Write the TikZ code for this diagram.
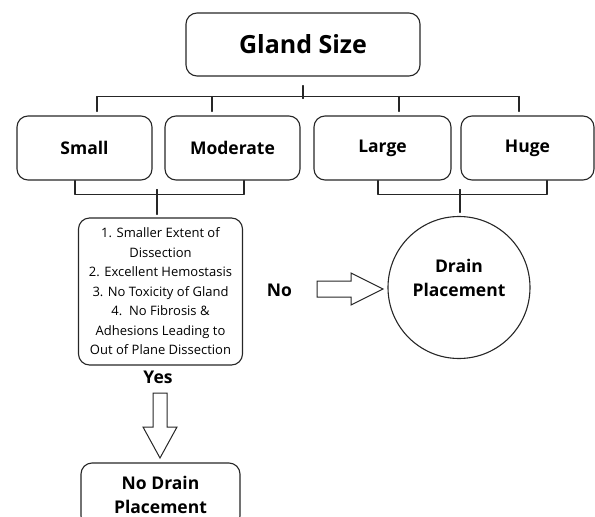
\documentclass[tikz,border=0pt]{standalone}
\usepackage{fontspec}
\setmainfont{Open Sans}
\tikzset{
  box/.style={draw=black!85, line width=1.1pt, rounded corners=11pt, inner sep=0pt, align=center},
  headtext/.style={font=\bfseries\fontsize{17.5}{24}\selectfont, align=center},
  blockarrow/.style={draw=black!85, line width=1pt, line join=miter}
}
\begin{document}
\begin{tikzpicture}[x=1pt, y=-1pt, line join=round, line cap=round]%Gland size
	\useasboundingbox (0,0) rectangle (595,517);
	\clip (0,0) rectangle (595,517);
	\node[box, minimum width=234pt, minimum height=63pt, font=\bfseries\fontsize{25}{30}\selectfont](gland) at (303,44.5) {Gland Size};
	\foreach \n/\t/\x/\w in {small/Small/84.5/135, moderate/Moderate/232.5/135, large/Large/382.5/137, huge/Huge/527.5/133}
	\node[box, headtext, minimum width=\w pt, minimum height=64pt](\n) at (\x,148) {\t};
	\node[box, minimum width=164pt, minimum height=147pt, font=\fontsize{13}{19.5}\selectfont](reasons) at (160.5,291.5) {1. Smaller Extent of\\Dissection\\2. Excellent Hemostasis\\3. No Toxicity of Gland\\4.\ \ No Fibrosis \&\\Adhesions Leading to\\Out of Plane Dissection};
	\node[circle, draw=black!85, line width=1.1pt, minimum size=142pt, label={[headtext, yshift=10pt]center:Drain\\Placement}](drain) at (459,287.5) {};
	\node[box, headtext, minimum width=159pt, minimum height=64pt](nodrain) at (160.5,495) {No Drain\\Placement};
	\node[headtext](yes) at (158,377) {Yes};
	\node[headtext](no) at (279.5,290) {No};
	% tree lines
	\draw[black!85, line width=1.1pt] ([yshift=-9pt]gland.south) -- ++(0,13);
	\draw[black!85, line width=1.1pt] ([xshift=12.5pt,yshift=19pt]small.north) -- ([xshift=-8.5pt,yshift=19pt]huge.north);
	\foreach \n/\d in {small/12.5, moderate/-20.5, large/16.5, huge/-8.5}
	\draw[black!85, line width=1.1pt] ([xshift=\d pt,yshift=4pt]\n.north) -- ++(0,-15);
	\draw[black!85, line width=1.1pt] ([xshift=-9.5pt]small.south) -- ++(0,14) -| ([xshift=11.5pt]moderate.south);
	\draw[black!85, line width=1.1pt] ([xshift=-3.5pt,yshift=3pt]reasons.north) -- ++(0,-25);
	\draw[black!85, line width=1.1pt] ([xshift=-4.5pt]large.south) -- ++(0,14) -| ([xshift=19.5pt]huge.south);
	\draw[black!85, line width=1.1pt] ([xshift=1pt,yshift=3.5pt]drain.north) -- ++(0,-23);
	% block arrows
	\path (317,289) coordinate (noarrow) (160,393) coordinate (yesarrow);
	\draw[blockarrow] (noarrow) ++(0,-8) -- ++(34,0) -- ++(0,-8) -- ++(32,16) -- ++(-32,16) -- ++(0,-8) -- ++(-34,0) -- cycle;
	\draw[blockarrow] (yesarrow) ++(-7,0) -- ++(0,34) -- ++(-10,0) -- ++(17,31) -- ++(17,-31) -- ++(-10,0) -- ++(0,-34) -- cycle;
\end{tikzpicture}
\end{document}
